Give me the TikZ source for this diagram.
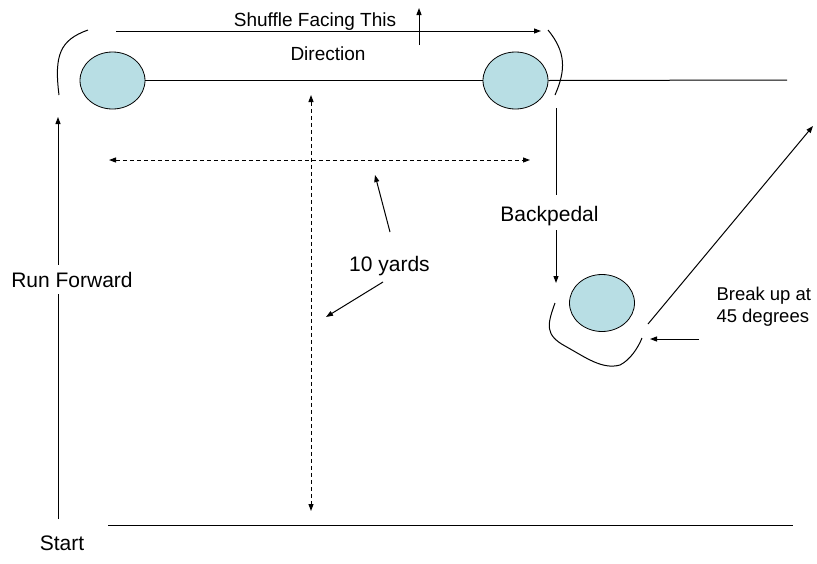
\documentclass[tikz,border=0pt]{standalone}
\usepackage{fontspec}
\setmainfont{Liberation Sans}
\usetikzlibrary{shapes.geometric,arrows.meta}
\definecolor{conefill}{RGB}{184,222,228}
\begin{document}
\begin{tikzpicture}[x=1pt,y=-1pt,line width=1pt,
  cone/.style={ellipse,draw,fill=conefill,line width=0.8pt,
    minimum width=65pt,minimum height=57pt,inner sep=0pt},
  lbl/.style={font=\fontsize{21}{25}\selectfont,inner sep=0pt},
  mid/.style={font=\fontsize{19}{23}\selectfont,inner sep=0pt},
  small/.style={font=\fontsize{18.5}{23}\selectfont,inner sep=0pt,align=left},
  arr/.style={-{Triangle[length=7pt,width=5pt]}},
  darr/.style={{Triangle[length=7pt,width=5pt]}-{Triangle[length=7pt,width=5pt]},
    dash pattern=on 4pt off 3pt},
]
\useasboundingbox (0,0) rectangle (817,563);

% cones
\node[cone] (c1) at (112.5,80.5) {};
\node[cone] (c2) at (515.5,80.5) {};
\node[cone] (c3) at (602,303) {};

% coordinates for free ends
\coordinate (lineend) at (787,80);
\coordinate (topA) at (116,31);
\coordinate (topB) at (541,31);
\coordinate (faceA) at (419,45);
\coordinate (faceB) at (419,8);
\coordinate (runA) at (58,519);
\coordinate (runB) at (58,117);
\coordinate (baseA) at (108,525);
\coordinate (baseB) at (793,525);
\coordinate (vdA) at (311,95);
\coordinate (vdB) at (311,511);
\coordinate (hdA) at (109,160);
\coordinate (hdB) at (530,160);
\coordinate (bpA) at (556,108);
\coordinate (bpB) at (556,195);
\coordinate (bpC) at (556,230);
\coordinate (bpD) at (556,283);
\coordinate (ydA) at (390,232);
\coordinate (ydB) at (375,175);
\coordinate (ydC) at (383,282);
\coordinate (ydD) at (326,317);
\coordinate (brA) at (648,324);
\coordinate (brB) at (813,126);
\coordinate (ptA) at (699,339);
\coordinate (ptB) at (650,339);

% straight lines
\draw (c1.east) -- (c2.west);
\draw (c2.east) -- (lineend);
\draw (baseA) -- (baseB);
\draw (bpA) -- (bpB);

% arrows
\draw[arr] (topA) -- (topB);
\draw[arr] (faceA) -- (faceB);
\draw[arr] (runA) -- (runB);
\draw[arr] (bpC) -- (bpD);
\draw[arr] (ydA) -- (ydB);
\draw[arr] (ydC) -- (ydD);
\draw[arr] (brA) -- (brB);
\draw[arr] (ptA) -- (ptB);

% dashed 10-yard measures
\draw[darr] (vdA) -- (vdB);
\draw[darr] (hdA) -- (hdB);

% running paths around the cones
\draw (88,30) .. controls (60,40) and (54,55) .. (59,95);
\draw (548,30) .. controls (566,52) and (566,70) .. (555,95);
\draw (555,303) .. controls (547,325) and (545,335) .. (565,346)
  .. controls (585,357) and (602,370) .. (620,365)
  .. controls (630,360) and (638,348) .. (642,338);

% labels (the run label sits on a white box over the arrow)
\node[lbl,anchor=base] (shuffle) at (315,26) [mid] {Shuffle Facing This};
\node[mid,anchor=base] (direction) at (328,60) {Direction};
\node[lbl,anchor=base,fill=white,inner ysep=7pt] (run) at (72,287) {Run Forward};
\node[lbl,anchor=base] (back) at (549.5,221) {Backpedal};
\node[lbl,anchor=base] (yards) at (389.5,271) {10 yards};
\node[small,anchor=base west] (break) at (716,322) {Break up at\\[-1pt]45 degrees};
\node[lbl,anchor=base] (start) at (62,550) {Start};
\end{tikzpicture}
\end{document}
